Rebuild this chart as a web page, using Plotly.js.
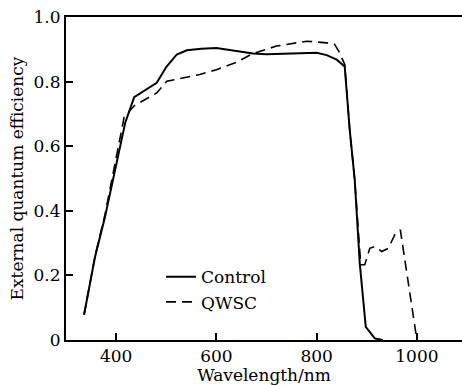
<!DOCTYPE html>
<html>
<head>
<meta charset="utf-8">
<script src="https://cdn.plot.ly/plotly-3.0.1.min.js"></script>
<style>html,body{margin:0;padding:0;background:#fff;}#chart{width:462px;height:385px;}</style>
</head>
<body>
<div id="chart"></div>
<script>
const controlWavelength = [336, 358, 378, 391, 404, 418, 436, 460, 481, 500, 521, 541, 570, 600, 647, 673, 700, 747, 767, 800, 820, 840, 856, 866, 876, 886, 898, 916, 932];
const controlEQE        = [0.078, 0.258, 0.382, 0.475, 0.568, 0.672, 0.752, 0.775, 0.796, 0.845, 0.884, 0.897, 0.902, 0.904, 0.894, 0.887, 0.885, 0.887, 0.889, 0.889, 0.882, 0.868, 0.847, 0.651, 0.496, 0.238, 0.041, 0.005, 0];

const qwscWavelength = [336, 358, 378, 392, 402, 416, 436, 460, 481, 501, 521, 567, 600, 640, 673, 720, 780, 820, 836, 846, 856, 866, 876, 888, 896, 906, 916, 930, 943, 956, 967, 998, 1000];
const qwscEQE        = [0.078, 0.26, 0.39, 0.50, 0.585, 0.69, 0.725, 0.745, 0.765, 0.801, 0.808, 0.822, 0.837, 0.86, 0.887, 0.91, 0.925, 0.92, 0.915, 0.889, 0.853, 0.65, 0.496, 0.233, 0.233, 0.284, 0.289, 0.274, 0.284, 0.326, 0.341, 0.01, 0];

const xTicks = [400, 600, 800, 1000];
const yTicks = [0, 0.2, 0.4, 0.6, 0.8, 1.0];
const yTickLabels = ["0", "0.2", "0.4", "0.6", "0.8", "1.0"];
const seriesNames = ["Control", "QWSC"];

const font = {family: "DejaVu Serif", size: 17, color: "#000"};

const traces = [
  {x: controlWavelength, y: controlEQE, name: seriesNames[0], type: "scatter", mode: "lines",
   line: {color: "#000", width: 2}},
  {x: qwscWavelength, y: qwscEQE, name: seriesNames[1], type: "scatter", mode: "lines",
   line: {color: "#000", width: 1.6, dash: "10px,6px"}}
];

const layout = {
  width: 462, height: 385,
  margin: {l: 66, r: 0, t: 17, b: 45},
  paper_bgcolor: "#fff", plot_bgcolor: "#fff",
  font: font,
  showlegend: true,
  legend: {x: 0.24, y: 0.25, xanchor: "left", yanchor: "top", bgcolor: "rgba(0,0,0,0)",
           font: font, tracegroupgap: 0},
  xaxis: {
    range: [300, 1090], tickvals: xTicks, ticktext: xTicks.map(String),
    ticks: "inside", ticklen: 7, tickwidth: 2, tickcolor: "#000",
    showline: true, linecolor: "#000", linewidth: 2, mirror: true,
    showgrid: false, zeroline: false, automargin: true,
    tickfont: font,
    title: {text: "Wavelength/nm", font: font, standoff: 1}
  },
  yaxis: {
    range: [0, 1], tickvals: yTicks, ticktext: yTickLabels,
    ticks: "inside", ticklen: 7, tickwidth: 2, tickcolor: "#000",
    showline: true, linecolor: "#000", linewidth: 2,
    showgrid: false, zeroline: false, automargin: true,
    tickfont: font,
    title: {text: "External quantum efficiency", font: font, standoff: 6}
  }
};

Plotly.newPlot("chart", traces, layout, {displayModeBar: false, staticPlot: true});
</script>
</body>
</html>
